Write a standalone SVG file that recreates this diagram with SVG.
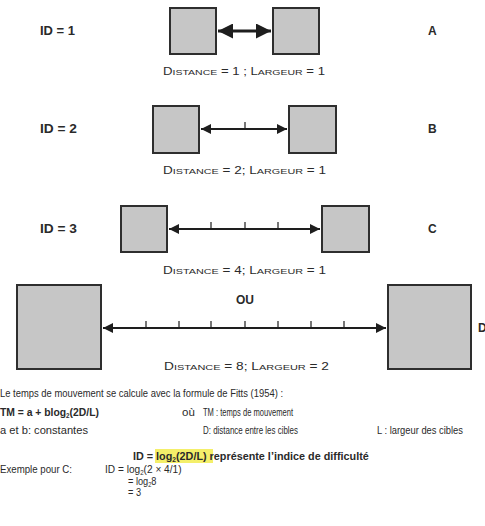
<svg xmlns="http://www.w3.org/2000/svg" width="485" height="526" viewBox="0 0 485 526">
  <defs>
    <style>
      .box { fill: #c6c6c6; stroke: #2e2e2e; stroke-width: 2; }
      .arr { stroke: #1e1e1e; stroke-width: 2; fill: none; }
      .arrA { stroke: #1e1e1e; stroke-width: 3; fill: none; }
      .tick { stroke: #1e1e1e; stroke-width: 1.2; }
      text { font-family: "Liberation Sans", Arial, sans-serif; fill: #2a2a2a; }
      .lbl { font-size: 12px; font-weight: bold; }
      .cap { font-size: 10px; }
      .sc { font-size: 8px; }
      .body { font-size: 11.5px; }
      .bold { font-size: 11.5px; font-weight: bold; }
      .sub { font-size: 7px; }
    </style>
    <marker id="head" viewBox="0 0 10 10" refX="10" refY="5" markerWidth="6" markerHeight="5" markerUnits="strokeWidth" orient="auto-start-reverse">
      <path d="M0,0 L10,5 L0,10 z" fill="#1e1e1e"/>
    </marker>
  </defs>

  <!-- row labels -->
  <g id="labels">
    <text class="lbl" x="40" y="35" textLength="35" lengthAdjust="spacingAndGlyphs">ID = 1</text>
    <text class="lbl" x="428" y="35">A</text>
    <text class="lbl" x="40" y="133" textLength="37" lengthAdjust="spacingAndGlyphs">ID = 2</text>
    <text class="lbl" x="428" y="133">B</text>
    <text class="lbl" x="40" y="233" textLength="37" lengthAdjust="spacingAndGlyphs">ID = 3</text>
    <text class="lbl" x="428" y="233">C</text>
    <text class="lbl" x="478" y="332">D</text>
    <text class="lbl" x="245" y="304" text-anchor="middle">OU</text>
  </g>

  <!-- targets -->
  <g id="targets-A">
    <rect class="box" x="170" y="8" width="46" height="46"/>
    <rect class="box" x="273" y="8" width="46" height="46"/>
  </g>
  <g id="targets-B">
    <rect class="box" x="153" y="106" width="46" height="47"/>
    <rect class="box" x="289" y="106" width="47" height="47"/>
  </g>
  <g id="targets-C">
    <rect class="box" x="121" y="206" width="46" height="46"/>
    <rect class="box" x="322" y="206" width="47" height="46"/>
  </g>
  <g id="targets-D">
    <rect class="box" x="17" y="285" width="84" height="84"/>
    <rect class="box" x="388" y="285" width="83" height="84"/>
  </g>

  <!-- distance arrows with unit ticks -->
  <g id="connectors">
    <line class="arrA" x1="218" y1="31" x2="271" y2="31" marker-start="url(#head)" marker-end="url(#head)"/>
    <line class="arr" x1="201" y1="129" x2="287" y2="129" marker-start="url(#head)" marker-end="url(#head)"/>
    <line class="tick" x1="245" y1="122" x2="245" y2="129"/>
    <line class="arr" x1="169" y1="229" x2="320" y2="229" marker-start="url(#head)" marker-end="url(#head)"/>
    <line class="tick" x1="211" y1="222" x2="211" y2="229"/>
    <line class="tick" x1="245" y1="222" x2="245" y2="229"/>
    <line class="tick" x1="278" y1="222" x2="278" y2="229"/>
    <line class="arr" x1="103" y1="328" x2="386" y2="328" marker-start="url(#head)" marker-end="url(#head)"/>
    <line class="tick" x1="146" y1="321" x2="146" y2="328"/>
    <line class="tick" x1="179" y1="321" x2="179" y2="328"/>
    <line class="tick" x1="211" y1="321" x2="211" y2="328"/>
    <line class="tick" x1="245" y1="321" x2="245" y2="328"/>
    <line class="tick" x1="278" y1="321" x2="278" y2="328"/>
    <line class="tick" x1="311" y1="321" x2="311" y2="328"/>
    <line class="tick" x1="344" y1="321" x2="344" y2="328"/>
  </g>

  <!-- captions -->
  <g id="captions">
    <text class="cap" x="163" y="75" textLength="162" lengthAdjust="spacingAndGlyphs">D<tspan class="sc">ISTANCE</tspan> = 1 ;   L<tspan class="sc">ARGEUR</tspan> = 1</text>
    <text class="cap" x="163" y="174" textLength="163" lengthAdjust="spacingAndGlyphs">D<tspan class="sc">ISTANCE</tspan> = 2;   L<tspan class="sc">ARGEUR</tspan> = 1</text>
    <text class="cap" x="163" y="274" textLength="163" lengthAdjust="spacingAndGlyphs">D<tspan class="sc">ISTANCE</tspan> = 4;   L<tspan class="sc">ARGEUR</tspan> = 1</text>
    <text class="cap" x="164" y="370" textLength="165" lengthAdjust="spacingAndGlyphs">D<tspan class="sc">ISTANCE</tspan> = 8;   L<tspan class="sc">ARGEUR</tspan> = 2</text>
  </g>

  <!-- Fitts formula and worked example -->
  <g id="formula">
    <text class="body" x="0" y="397" textLength="283" lengthAdjust="spacingAndGlyphs">Le temps de mouvement se calcule avec la formule de Fitts (1954) :</text>
    <text class="bold" transform="translate(0,416) scale(0.9,1)">TM = a + blog<tspan class="sub" dy="2">2</tspan><tspan dy="-2">(2D/L)</tspan></text>
    <text class="body" x="182" y="416">où</text>
    <text class="body" x="203" y="416" textLength="90" lengthAdjust="spacingAndGlyphs">TM : temps de mouvement</text>
    <text class="body" x="0" y="434" textLength="88" lengthAdjust="spacingAndGlyphs">a et b: constantes</text>
    <text class="body" x="203" y="434" textLength="95" lengthAdjust="spacingAndGlyphs">D: distance entre les cibles</text>
    <text class="body" x="377" y="434" textLength="86" lengthAdjust="spacingAndGlyphs">L : largeur des cibles</text>

    <rect x="155" y="449" width="58" height="14" fill="#f4ef6a"/>
    <text class="bold" transform="translate(133,460) scale(0.94,1)">ID = log<tspan class="sub" dy="2">2</tspan><tspan dy="-2">(2D/L) représente l’indice de difficulté</tspan></text>

    <text class="body" x="0" y="473" textLength="72" lengthAdjust="spacingAndGlyphs">Exemple pour C:</text>
    <text class="body" transform="translate(105,473) scale(0.88,1)">ID = log<tspan class="sub" dy="2">2</tspan><tspan dy="-2">(2 × 4/1)</tspan></text>
    <text class="body" transform="translate(128,485) scale(0.8,1)">= log<tspan class="sub" dy="2">2</tspan><tspan dy="-2">8</tspan></text>
    <text class="body" transform="translate(128,496) scale(0.8,1)">= 3</text>
  </g>
</svg>
